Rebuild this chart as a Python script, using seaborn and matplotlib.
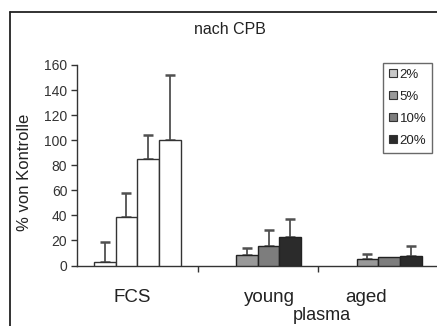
import numpy as np
import pandas as pd
import seaborn as sns
import matplotlib
matplotlib.use("Agg")
import matplotlib.pyplot as plt
from matplotlib.patches import Patch
from matplotlib.lines import Line2D

# ---- data ----
plasma_types = ["FCS", "young", "aged"]
concentrations = ["2%", "5%", "10%", "20%"]
fcs_mean = [2.5, 39, 85, 100]
fcs_err = [16, 19, 19, 52]
young_mean = [np.nan, 8, 15.5, 23]
young_err = [np.nan, 6, 13, 14]
aged_mean = [np.nan, 5.5, 6.5, 7.5]
aged_err = [np.nan, 3.5, np.nan, 8]
yticks = [0, 20, 40, 60, 80, 100, 120, 140, 160]

means = {"FCS": fcs_mean, "young": young_mean, "aged": aged_mean}
errs = {"FCS": fcs_err, "young": young_err, "aged": aged_err}
rows = []
for p in plasma_types:
    for c, m, e in zip(concentrations, means[p], errs[p]):
        if not np.isnan(m):
            rows.append({"plasma": p, "conc": c, "value": m, "err": e})
df = pd.DataFrame(rows)

palette = {"2%": "#c8c8c8", "5%": "#999999", "10%": "#7d7d7d", "20%": "#2b2b2b"}

sns.set_theme(style="white")
plt.rcParams["font.family"] = ["Liberation Sans", "DejaVu Sans"]

W, H = 437, 326
fig = plt.figure(figsize=(W / 100, H / 100), dpi=100)
ax = fig.add_axes([77 / W, 1 - 265.5 / H, 361.5 / W, 200.5 / H])

sns.barplot(data=df, x="plasma", y="value", hue="conc", order=plasma_types,
            hue_order=concentrations, palette=palette, errorbar=None,
            width=0.72, edgecolor="#222222", linewidth=1.0, ax=ax, legend=False,
            zorder=3)

lookup = {(r.plasma, r.conc): r.err for r in df.itertuples()}
for conc, cont in zip(concentrations, ax.containers):
    for bar in cont:
        cx = bar.get_x() + bar.get_width() / 2
        cat = plasma_types[int(round(cx))]
        if cat == "FCS":
            bar.set_facecolor("white")
            bar.set_edgecolor("#333333")
        e = lookup.get((cat, conc), np.nan)
        if e is not None and not np.isnan(e):
            ax.errorbar(cx, bar.get_height(), yerr=[[0], [e]], fmt="none",
                        ecolor="#505050", elinewidth=1.3, capsize=3.5,
                        capthick=1.8, zorder=2)

ax.set_xlim(-0.5, 2.5)
ax.set_ylim(0, 160)
ax.set_yticks(yticks)
ax.set_yticklabels([str(v) for v in yticks], fontsize=10, color="#333333")
ax.set_xticks([-0.044, 1.093, 1.898])
ax.set_xticklabels(plasma_types, fontsize=13.5, color="#222222")
ax.tick_params(axis="x", which="major", length=0, pad=17)
ax.set_xticks([0.5, 1.5], minor=True)
ax.tick_params(axis="x", which="minor", length=4, direction="out",
               color="#333333", width=1, bottom=True)
ax.tick_params(axis="y", length=4, direction="out", color="#333333",
               width=1, left=True, pad=3)
ax.set_xlabel("")
ax.set_ylabel("")
for s in ["top", "right"]:
    ax.spines[s].set_visible(False)
for s in ["left", "bottom"]:
    ax.spines[s].set_color("#333333")
    ax.spines[s].set_linewidth(1.0)

handles = [Patch(facecolor=palette[c], edgecolor="#333333", linewidth=0.8, label=c)
           for c in concentrations]
leg = fig.legend(handles=handles, loc="upper left",
                 bbox_to_anchor=(383 / W, 1 - 63 / H), fontsize=9.5,
                 frameon=True, fancybox=False, handlelength=0.6,
                 handleheight=0.6, handletextpad=0.2, labelspacing=0.75,
                 borderpad=0.45, borderaxespad=0)
leg.get_frame().set_edgecolor("#444444")
leg.get_frame().set_linewidth(1.0)
for t in leg.get_texts():
    t.set_color("#222222")

fig.text(230 / W, 1 - 29 / H, "nach CPB", ha="center", va="center",
         fontsize=11.5, color="#222222")
fig.text(25 / W, 1 - 172 / H, "% von Kontrolle", ha="center", va="center",
         rotation=90, fontsize=12, color="#222222")
fig.text(322 / W, 1 - 324.5 / H, "plasma", ha="center", va="bottom",
         fontsize=13, color="#222222")

fig.add_artist(Line2D([10 / W, 10 / W], [0, 1 - 12 / H], color="#222222", lw=1.3))
fig.add_artist(Line2D([10 / W, 1], [1 - 12 / H, 1 - 12 / H], color="#222222", lw=1.3))

fig.savefig("out.png", dpi=100)
